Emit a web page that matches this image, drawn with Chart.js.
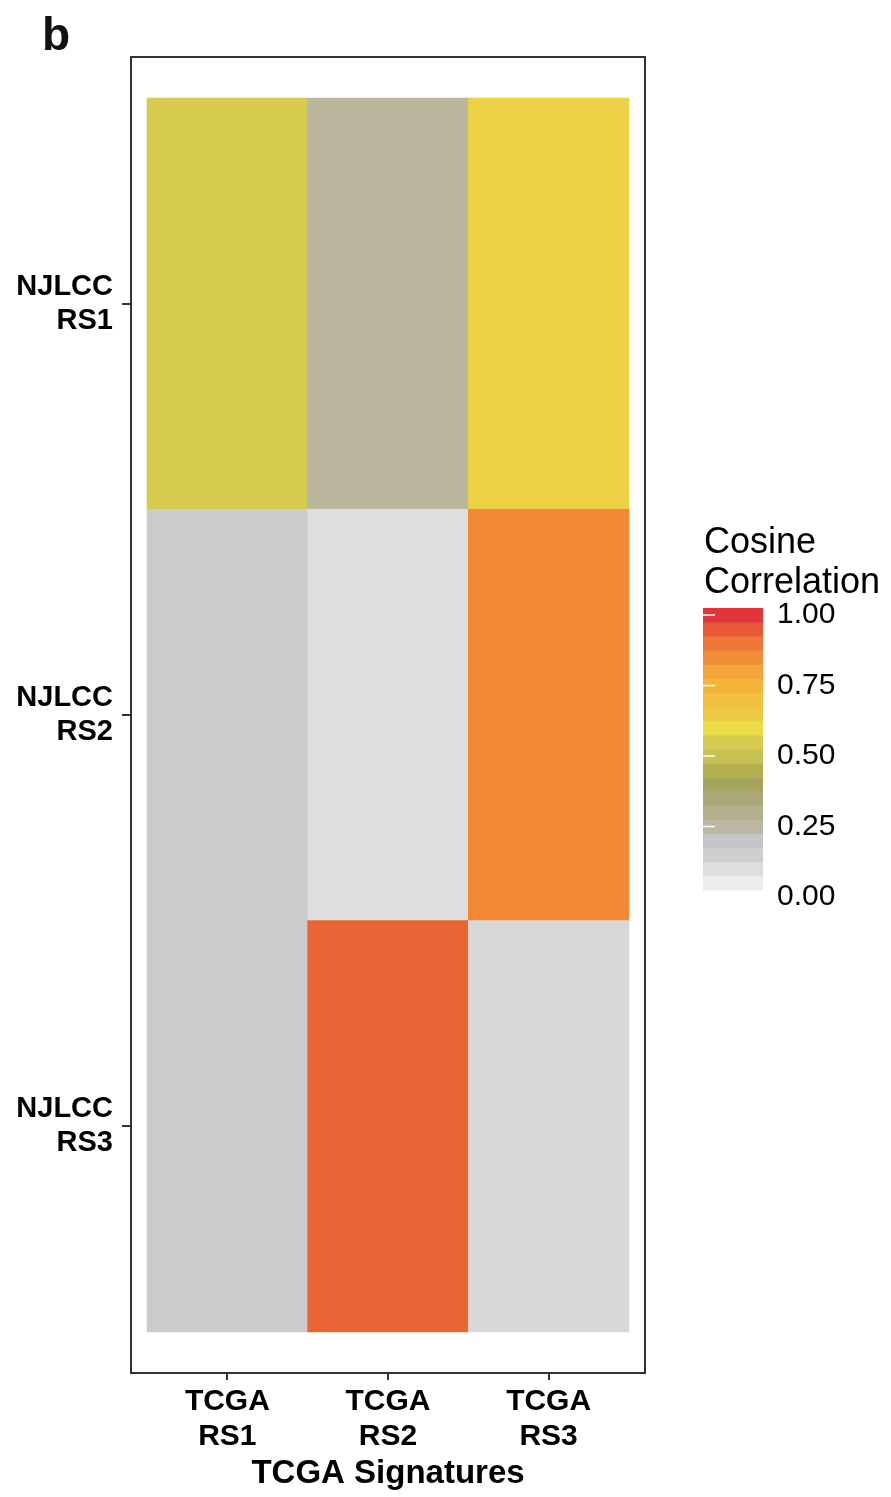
<!DOCTYPE html>
<html>
<head>
<meta charset="utf-8">
<script src="https://cdn.jsdelivr.net/npm/chart.js@4/dist/chart.umd.min.js"></script>
<style>
  body { margin: 0; background: #fff; }
  #wrap { width: 891px; height: 1497px; }
</style>
</head>
<body>
<div id="wrap"><canvas id="heatmap" width="891" height="1497"></canvas></div>
<script>
// TCGA signatures (x) vs NJLCC signatures (y)
var colLabels = [["TCGA", "RS1"], ["TCGA", "RS2"], ["TCGA", "RS3"]];
var rowLabels = [["NJLCC", "RS1"], ["NJLCC", "RS2"], ["NJLCC", "RS3"]];

// cosine correlation, one array per NJLCC row
var njlccRS1 = [0.55, 0.26, 0.63];
var njlccRS2 = [0.17, 0.10, 0.86];
var njlccRS3 = [0.17, 0.93, 0.12];

// colour bar
var legendTicks = [1.00, 0.75, 0.50, 0.25, 0.00];
var paletteValues = [0.05, 0.10, 0.15, 0.20, 0.25, 0.30, 0.35, 0.40, 0.45, 0.50,
                     0.55, 0.60, 0.65, 0.70, 0.75, 0.80, 0.85, 0.90, 0.95, 1.00];
var paletteColors = ["#ededed", "#dedede", "#cfcfd1", "#c5c5c8", "#bdb8a3", "#b5b190", "#a9a87a", "#a6a55d", "#b4b04f", "#c7c052",
                     "#d6ca4f", "#e9dd45", "#ecc942", "#f0c03e", "#f4b43a", "#f3a53a", "#f08d36", "#ee7636", "#e85a35", "#e3343a"];

var FONT = "'Liberation Sans', Arial, Helvetica, sans-serif";

function hexToRgb(h) {
  return [parseInt(h.substr(1, 2), 16), parseInt(h.substr(3, 2), 16), parseInt(h.substr(5, 2), 16)];
}
// continuous colour for a value, between the palette stops
function colorFor(v) {
  if (v <= paletteValues[0]) return paletteColors[0];
  for (var i = 1; i < paletteValues.length; i++) {
    if (v <= paletteValues[i]) {
      var t = (v - paletteValues[i - 1]) / (paletteValues[i] - paletteValues[i - 1]);
      var a = hexToRgb(paletteColors[i - 1]), b = hexToRgb(paletteColors[i]);
      var c = a.map(function (x, k) { return Math.round(x + (b[k] - x) * t); });
      return "rgb(" + c.join(",") + ")";
    }
  }
  return paletteColors[paletteColors.length - 1];
}

// one floating bar per cell: x = column index, y = [row bottom, row top]
var rows = [njlccRS1, njlccRS2, njlccRS3];
var cellX = [];
var cellY = [];
var cellColors = [];
for (var r = 0; r < rows.length; r++) {
  for (var c = 0; c < rows[r].length; c++) {
    var rowTop = rows.length - r; // first row on top
    cellX.push(c);
    cellY.push([rowTop - 1, rowTop]);
    cellColors.push(colorFor(rows[r][c]));
  }
}

// panel border, "b" label and colour bar legend
var extras = {
  id: "extras",
  afterDatasetsDraw: function (chart) {
    var ctx = chart.ctx, a = chart.chartArea;
    ctx.save();
    ctx.strokeStyle = "#333";
    ctx.lineWidth = 2;
    ctx.strokeRect(a.left, a.top, a.right - a.left, a.bottom - a.top);
    ctx.restore();
  },
  afterDraw: function (chart) {
    var ctx = chart.ctx;
    ctx.save();
    ctx.fillStyle = "#111";
    ctx.font = "bold 46px " + FONT;
    ctx.textBaseline = "alphabetic";
    ctx.fillText("b", 42, 50);

    // legend title
    ctx.fillStyle = "#000";
    ctx.font = "36px " + FONT;
    ctx.fillText("Cosine", 704, 553);
    ctx.fillText("Correlation", 704, 593);

    // colour bar: 20 steps from 1.025 to 0.025
    var barX = 703, barW = 60, barTop = 608, span = 282;
    var yOf = function (v) { return barTop + (1.025 - v) * span; };
    for (var i = 0; i < paletteValues.length; i++) {
      var v = paletteValues[i];
      ctx.fillStyle = paletteColors[i];
      var y0 = yOf(v + 0.025), y1 = yOf(v - 0.025);
      ctx.fillRect(barX, y0, barW, y1 - y0 + 0.5);
    }
    ctx.strokeStyle = "#fff";
    ctx.lineWidth = 1.5;
    ctx.font = "30px " + FONT;
    ctx.textBaseline = "middle";
    for (var j = 0; j < legendTicks.length; j++) {
      var ty = yOf(legendTicks[j]);
      if (ty < barTop + span) {
        ctx.beginPath();
        ctx.moveTo(barX, ty);
        ctx.lineTo(barX + 12, ty);
        ctx.stroke();
      }
      ctx.fillStyle = "#000";
      ctx.fillText(legendTicks[j].toFixed(2), 777, ty);
    }
    ctx.restore();
  }
};

new Chart(document.getElementById("heatmap"), {
  type: "bar",
  data: {
    labels: cellX,
    datasets: [{
      data: cellY,
      backgroundColor: cellColors,
      borderWidth: 0,
      barPercentage: 1,
      categoryPercentage: 1
    }]
  },
  options: {
    responsive: false,
    animation: false,
    events: [],
    layout: { padding: { left: 0, top: 57, right: 246, bottom: 0 } },
    plugins: { legend: { display: false }, tooltip: { enabled: false } },
    scales: {
      x: {
        type: "linear",
        min: -0.6,
        max: 2.6,
        offset: false,
        afterBuildTicks: function (scale) {
          scale.ticks = colLabels.map(function (l, i) { return { value: i }; });
        },
        afterFit: function (scale) { scale.height = 124; },
        ticks: {
          autoSkip: false,
          maxRotation: 0,
          padding: 4,
          color: "#000",
          font: { family: FONT, size: 30, weight: "bold", lineHeight: 1.17 },
          callback: function (v) { return colLabels[Math.round(v)]; }
        },
        grid: { offset: false, drawOnChartArea: false, drawTicks: true, tickLength: 7, color: "#333", lineWidth: 2 },
        border: { display: false },
        title: {
          display: true,
          text: "TCGA Signatures",
          color: "#000",
          font: { family: FONT, size: 33, weight: "bold" },
          padding: { top: 0, bottom: 3 }
        }
      },
      y: {
        type: "linear",
        min: -0.1,
        max: 3.1,
        afterBuildTicks: function (scale) {
          scale.ticks = [2.5, 1.5, 0.5].map(function (v) { return { value: v }; });
        },
        afterFit: function (scale) { scale.width = 131; },
        ticks: {
          autoSkip: false,
          padding: 9,
          color: "#000",
          font: { family: FONT, size: 29, weight: "bold", lineHeight: 1.17 },
          callback: function (v) { return rowLabels[Math.round(2.5 - v)]; }
        },
        grid: { drawOnChartArea: false, drawTicks: true, tickLength: 9, color: "#333", lineWidth: 2 },
        border: { display: false }
      }
    }
  },
  plugins: [extras]
});
</script>
</body>
</html>
